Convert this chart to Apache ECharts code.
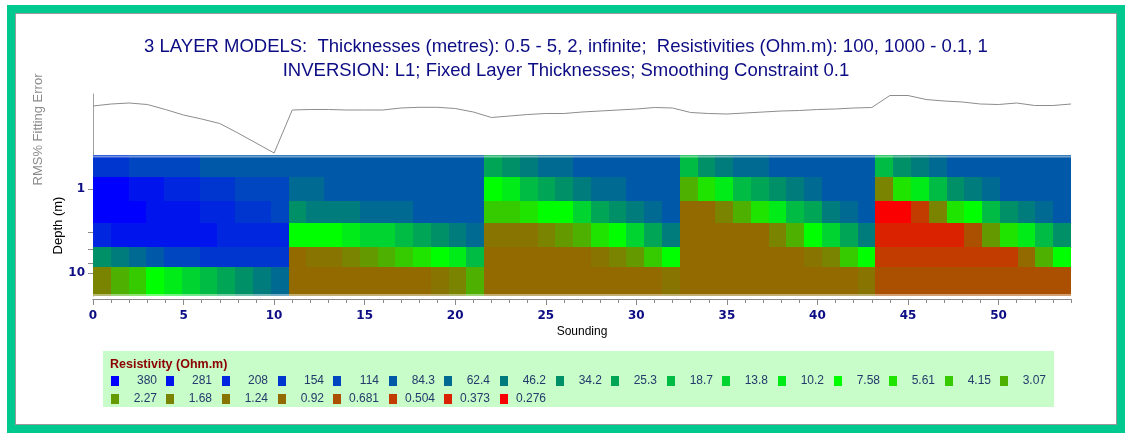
<!DOCTYPE html>
<html>
<head>
<meta charset="utf-8">
<script src="https://cdn.jsdelivr.net/npm/echarts@6/dist/echarts.min.js"></script>
<style>
html,body{margin:0;padding:0;background:#fff;}
#frame{position:absolute;left:7px;top:5px;width:1102px;height:412px;border:8px solid #00c98f;}
#inner{position:absolute;left:0;top:0;right:0;bottom:0;border:1px solid #9a9a9a;background:#fff;}
#chart{position:absolute;left:0;top:0;width:1132px;height:439px;}
</style>
</head>
<body>
<div id="frame"><div id="inner"></div></div>
<div id="chart"></div>
<script>
// ---------------- data ----------------
const titleLine1 = '3 LAYER MODELS:  Thicknesses (metres): 0.5 - 5, 2, infinite;  Resistivities (Ohm.m): 100, 1000 - 0.1, 1';
const titleLine2 = 'INVERSION: L1; Fixed Layer Thicknesses; Smoothing Constraint 0.1';

// legend classes (Ohm.m) and their colours
const classValues = [380, 281, 208, 154, 114, 84.3, 62.4, 46.2, 34.2, 25.3, 18.7, 13.8, 10.2, 7.58, 5.61, 4.15, 3.07,
                     2.27, 1.68, 1.24, 0.92, 0.681, 0.504, 0.373, 0.276];
const classColors = ['#0000ff', '#0014ee', '#0026e0', '#0036d0', '#0046c0', '#0058a8', '#006a92', '#007c7c', '#009068',
                     '#00a656', '#00bc44', '#00d430', '#00ec18', '#00ff00', '#1ee400', '#36ca00', '#4eb000',
                     '#649a00', '#7a8400', '#887400', '#926a00', '#aa5000', '#c23c00', '#da2200', '#fa0000'];

// RMS % fitting error per sounding (0..54)
const rmsError = [4.9, 5.1, 5.2, 5.05, 4.55, 4.0, 3.6, 3.15, 2.2, 1.2, 0.2,
                  4.5, 4.55, 4.55, 4.5, 4.5, 4.5, 4.7, 4.77, 4.77, 4.65, 4.3,
                  3.75, 3.9, 4.05, 4.15, 4.15, 4.3, 4.4, 4.5, 4.6, 4.75, 4.7,
                  4.25, 4.15, 4.1, 4.2, 4.3, 4.4, 4.45, 4.55, 4.6, 4.7, 4.75,
                  5.95, 5.95, 5.55, 5.4, 5.3, 5.1, 5.05, 5.2, 4.95, 4.95, 5.1];

// model layer boundaries (depth, m)
const depthEdges = [0.39, 0.71, 1.37, 2.54, 4.82, 8.48, 18.6];

// resistivity of each model cell, one array per layer, 55 soundings each
const layer1 = [154, 154, 114, 114, 114, 114, 84.3, 84.3, 84.3, 84.3, 84.3,
                84.3, 84.3, 84.3, 84.3, 84.3, 84.3, 84.3, 84.3, 84.3, 84.3, 84.3,
                25.3, 34.2, 46.2, 62.4, 62.4, 84.3, 84.3, 84.3, 84.3, 84.3, 84.3,
                18.7, 34.2, 46.2, 62.4, 62.4, 84.3, 84.3, 84.3, 84.3, 84.3, 84.3,
                18.7, 34.2, 46.2, 62.4, 84.3, 84.3, 84.3, 84.3, 84.3, 84.3, 84.3];
const layer2 = [380, 380, 281, 281, 208, 208, 154, 154, 114, 114, 114,
                62.4, 62.4, 84.3, 84.3, 84.3, 84.3, 84.3, 84.3, 84.3, 84.3, 84.3,
                7.58, 10.2, 18.7, 25.3, 34.2, 46.2, 62.4, 62.4, 84.3, 84.3, 84.3,
                3.07, 5.61, 10.2, 18.7, 25.3, 34.2, 46.2, 62.4, 84.3, 84.3, 84.3,
                1.68, 5.61, 10.2, 18.7, 34.2, 46.2, 62.4, 84.3, 84.3, 84.3, 84.3];
const layer3 = [380, 380, 380, 281, 281, 281, 208, 208, 154, 154, 114,
                34.2, 46.2, 46.2, 46.2, 62.4, 62.4, 62.4, 84.3, 84.3, 84.3, 84.3,
                4.15, 4.15, 5.61, 7.58, 7.58, 13.8, 25.3, 34.2, 46.2, 62.4, 84.3,
                0.92, 0.92, 1.68, 3.07, 5.61, 10.2, 18.7, 25.3, 46.2, 62.4, 84.3,
                0.276, 0.276, 0.504, 1.68, 5.61, 7.58, 18.7, 34.2, 46.2, 62.4, 84.3];
const layer4 = [208, 281, 281, 281, 281, 281, 281, 208, 208, 208, 208,
                7.58, 7.58, 7.58, 10.2, 13.8, 13.8, 18.7, 25.3, 34.2, 46.2, 62.4,
                1.24, 1.24, 1.24, 1.68, 2.27, 3.07, 5.61, 7.58, 13.8, 25.3, 46.2,
                0.92, 0.92, 0.92, 0.92, 0.92, 1.68, 3.07, 7.58, 13.8, 25.3, 46.2,
                0.373, 0.373, 0.373, 0.373, 0.373, 0.681, 2.27, 5.61, 10.2, 18.7, 34.2];
const layer5 = [34.2, 46.2, 62.4, 84.3, 114, 114, 154, 154, 154, 154, 154,
                0.92, 1.24, 1.24, 1.68, 2.27, 3.07, 4.15, 5.61, 7.58, 10.2, 18.7,
                0.92, 0.92, 0.92, 0.92, 0.92, 0.92, 1.24, 1.68, 2.27, 4.15, 7.58,
                0.92, 0.92, 0.92, 0.92, 0.92, 0.92, 0.92, 1.24, 1.68, 4.15, 7.58,
                0.504, 0.504, 0.504, 0.504, 0.504, 0.504, 0.504, 0.504, 0.92, 3.07, 7.58];
const layer6 = [1.68, 3.07, 4.15, 7.58, 10.2, 13.8, 18.7, 25.3, 34.2, 46.2, 62.4,
                0.92, 0.92, 0.92, 0.92, 0.92, 0.92, 0.92, 0.92, 1.24, 1.68, 3.07,
                0.92, 0.92, 0.92, 0.92, 0.92, 0.92, 0.92, 0.92, 0.92, 0.92, 1.24,
                0.92, 0.92, 0.92, 0.92, 0.92, 0.92, 0.92, 0.92, 0.92, 0.92, 1.24,
                0.681, 0.681, 0.681, 0.681, 0.681, 0.681, 0.681, 0.681, 0.681, 0.681, 0.681];

const soundingMax = 54;
const soundingTickLabels = [0, 5, 10, 15, 20, 25, 30, 35, 40, 45, 50];
const depthTickLabels = [1, 10];
const depthTickMarks = [1, 3.25, 5.1, 7.6, 10];

// ---------------- build ----------------
const layers = [layer1, layer2, layer3, layer4, layer5, layer6];
const nCols = layer1.length;
const cellData = [];
layers.forEach((row, r) => {
  row.forEach((v, c) => {
    cellData.push([c * soundingMax / nCols, depthEdges[r], v, (c + 1) * soundingMax / nCols, depthEdges[r + 1], r]);
  });
});
const rmsData = rmsError.map((v, i) => [i, v]);

const navy = '#0c0c84';
const axisGray = '#8a8a8a';

// legend graphics
const legendGraphics = [];
legendGraphics.push({type: 'rect', left: 103, top: 351, shape: {width: 951, height: 56}, style: {fill: '#c8fcc8'}, silent: true});
legendGraphics.push({type: 'text', left: 110, top: 358, style: {text: 'Resistivity (Ohm.m)', fill: '#8b0000',
  font: 'bold 12.5px "Liberation Sans", Arial, sans-serif'}});
classValues.forEach((v, i) => {
  const row = i < 17 ? 0 : 1;
  const col = row ? i - 17 : i;
  const sx = 110.7 + col * 55.6;
  const sy = row ? 393.5 : 376;
  legendGraphics.push({type: 'rect', shape: {x: Math.round(sx), y: Math.round(sy), width: 8, height: 10}, style: {fill: classColors[i]}, silent: true});
  legendGraphics.push({type: 'text', x: Math.round(sx + 46), y: Math.round(sy + 5), style: {text: String(v), fill: '#223a6c',
    font: '12px "Liberation Sans", Arial, sans-serif', textAlign: 'right', textVerticalAlign: 'middle'}});
});

const chart = echarts.init(document.getElementById('chart'), null, {renderer: 'canvas'});
chart.setOption({
  backgroundColor: 'transparent',
  animation: false,
  title: {
    text: titleLine1 + '\n' + titleLine2,
    left: 'center', top: 35, padding: [0, 10, 0, 0],
    textStyle: {color: navy, fontSize: 18.5, fontWeight: 'normal', fontFamily: '"Liberation Sans", Arial, sans-serif', lineHeight: 24}
  },
  grid: [
    {left: 93, width: 978, top: 94, height: 61},
    {left: 93, width: 978, top: 155, height: 141}
  ],
  xAxis: [
    {gridIndex: 0, type: 'value', min: 0, max: soundingMax, show: false},
    {gridIndex: 1, type: 'value', position: 'bottom', min: 0, max: soundingMax, interval: 1, offset: 3,
      axisLine: {show: true, lineStyle: {color: axisGray}},
      axisTick: {show: true, length: 4, lineStyle: {color: axisGray}},
      axisLabel: {show: false}, splitLine: {show: false},
      name: 'Sounding', nameLocation: 'middle', nameGap: 27, nameMoveOverlap: false,
      nameTextStyle: {color: '#000', fontSize: 12, fontFamily: '"Liberation Sans", Arial, sans-serif'}},
    {gridIndex: 1, type: 'value', position: 'bottom', min: 0, max: soundingMax, offset: 3,
      axisLine: {show: true, lineStyle: {color: axisGray}},
      axisTick: {show: true, length: 6, customValues: soundingTickLabels, lineStyle: {color: axisGray}},
      axisLabel: {show: true, customValues: soundingTickLabels, margin: 11, color: navy, fontWeight: 'bold', fontSize: 12,
        fontFamily: '"DejaVu Sans", Verdana, sans-serif'},
      splitLine: {show: false}}
  ],
  yAxis: [
    {gridIndex: 0, type: 'value', min: 0, max: 6.1,
      axisLine: {show: true, lineStyle: {color: '#a0a0a0'}}, axisTick: {show: false}, axisLabel: {show: false}, splitLine: {show: false},
      name: 'RMS% Fitting Error', nameLocation: 'middle', nameGap: 48, nameMoveOverlap: false,
      nameTextStyle: {color: '#8c8c8c', fontSize: 13, fontFamily: '"Liberation Sans", Arial, sans-serif', padding: [0, 10, 0, 0]}},
    {gridIndex: 1, type: 'log', logBase: 10, inverse: true, min: depthEdges[0], max: depthEdges[depthEdges.length - 1],
      axisLine: {show: true, lineStyle: {color: axisGray}},
      axisTick: {show: true, length: 5, customValues: depthTickMarks, lineStyle: {color: axisGray}},
      axisLabel: {show: true, customValues: depthTickLabels, margin: 8, color: navy, fontWeight: 'bold', fontSize: 12,
        fontFamily: '"DejaVu Sans", Verdana, sans-serif'},
      splitLine: {show: false},
      name: 'Depth (m)', nameLocation: 'middle', nameGap: 28, nameMoveOverlap: false,
      nameTextStyle: {color: '#000', fontSize: 13, fontFamily: '"Liberation Sans", Arial, sans-serif'}}
  ],
  visualMap: {
    type: 'piecewise', show: false, seriesIndex: 1, dimension: 2,
    pieces: classValues.map((v, i) => ({value: v, color: classColors[i]}))
  },
  graphic: legendGraphics,
  series: [
    {type: 'line', xAxisIndex: 0, yAxisIndex: 0, data: rmsData, symbol: 'none', silent: true,
      lineStyle: {color: '#8c8c8c', width: 1}},
    {type: 'custom', xAxisIndex: 1, yAxisIndex: 1, data: cellData,
      dimensions: ['x0', 'd0', 'rho', 'x1', 'd1', 'layer'],
      encode: {x: [0, 3], y: [1, 4]},
      renderItem: function (params, api) {
        const p0 = api.coord([api.value(0), api.value(1)]);
        const p1 = api.coord([api.value(3), api.value(4)]);
        const x0 = Math.round(p0[0]), x1 = Math.round(p1[0]);
        const y0 = Math.round(p0[1]), y1 = Math.round(p1[1]);
        const children = [{type: 'rect', shape: {x: x0, y: y0, width: x1 - x0, height: y1 - y0}, style: {fill: api.visual('color')}}];
        const layer = api.value(5);
        if (layer === 0) {
          children.push({type: 'line', shape: {x1: x0, y1: y0 + 1.5, x2: x1, y2: y0 + 1.5}, style: {stroke: 'rgba(255,255,255,0.45)', lineWidth: 2}});
        }
        if (layer === layers.length - 1) {
          children.push({type: 'line', shape: {x1: x0, y1: y1 - 1, x2: x1, y2: y1 - 1}, style: {stroke: 'rgba(255,255,255,0.45)', lineWidth: 2}});
        }
        return {type: 'group', children: children};
      }
    }
  ]
});
</script>
</body>
</html>
